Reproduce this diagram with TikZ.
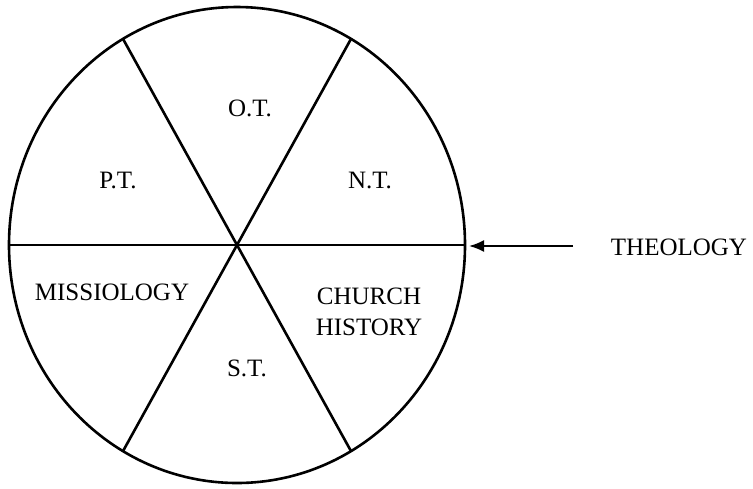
\documentclass[tikz,border=0pt]{standalone}
\usepackage{fontspec}
\setmainfont{Liberation Serif}
\usetikzlibrary{arrows.meta}
\begin{document}
\begin{tikzpicture}[x=0.5pt,y=-0.5pt,line width=1.3pt,
  lbl/.style={font=\fontsize{12.5}{15.5}\selectfont,align=center,inner sep=0pt}]
\useasboundingbox (0,0) rectangle (753,488);
\coordinate (O) at (237,245);
\draw (O) ellipse [x radius=228, y radius=238];
\foreach \a in {0,60,120}
  \draw ([shift={(\a:228 and 238)}]O) -- ([shift={(\a+180:228 and 238)}]O);
\node[lbl] (ot) at (250,108) {O.T.};
\node[lbl] (pt) at (118,180) {P.T.};
\node[lbl] (nt) at (370,180) {N.T.};
\node[lbl] (miss) at (112,292) {MISSIOLOGY};
\node[lbl] (church) at (369,312) {CHURCH\\HISTORY};
\node[lbl] (st) at (247,368) {S.T.};
\node[lbl] (theo) at (679,247) {THEOLOGY};
\coordinate (tail) at (573,246);
\coordinate (tip) at (469,246);
\draw[line width=1pt,-{Latex[length=7.5pt,width=6pt]}] (tail) -- (tip);
\end{tikzpicture}
\end{document}
